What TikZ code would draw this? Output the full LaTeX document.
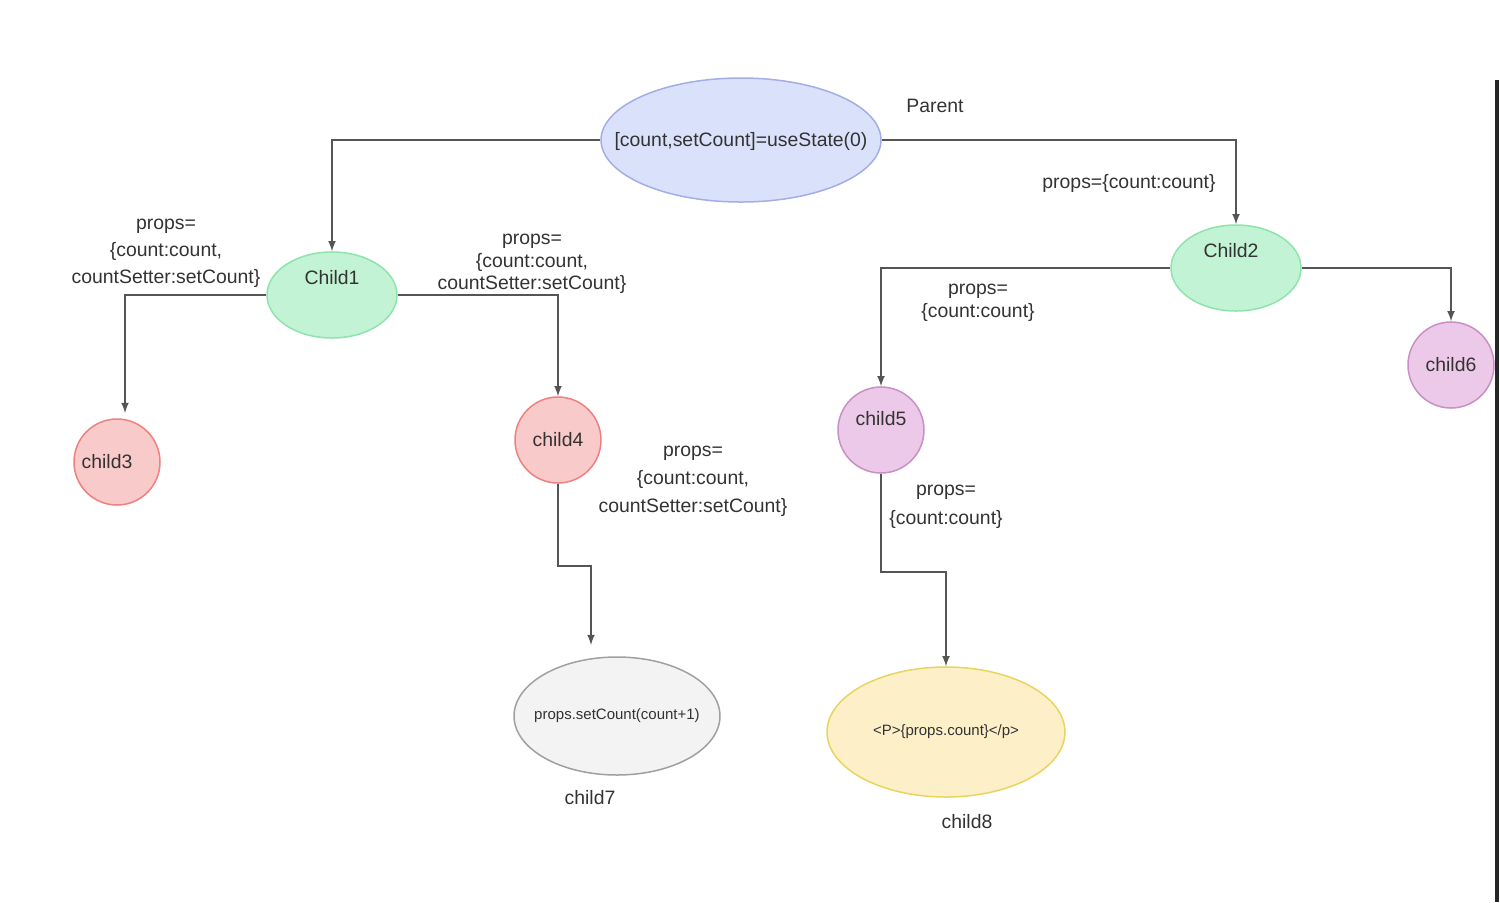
\documentclass[tikz,border=0pt]{standalone}
\usepackage{fontspec}
\setmainfont{Liberation Sans}
\usetikzlibrary{shapes, arrows, positioning}
\definecolor{parentfill}{HTML}{DAE1FB}
\definecolor{parentdraw}{HTML}{A3ADE6}
\definecolor{greenfill}{HTML}{C2F3D5}
\definecolor{greendraw}{HTML}{8FE3AD}
\definecolor{redfill}{HTML}{F9CACA}
\definecolor{reddraw}{HTML}{EF8080}
\definecolor{purplefill}{HTML}{ECC9E8}
\definecolor{purpledraw}{HTML}{C890C4}
\definecolor{grayfill}{HTML}{F3F3F3}
\definecolor{graydraw}{HTML}{A0A0A0}
\definecolor{yellowfill}{HTML}{FDEFC8}
\definecolor{yellowdraw}{HTML}{E8D55E}
\definecolor{wiregray}{HTML}{555555}
\definecolor{txt}{HTML}{333333}
\tikzstyle{parentnode} = [ellipse, draw=parentdraw, fill=parentfill, line width=0.75pt, inner sep=0pt, minimum width=140pt, minimum height=62pt, text=txt]
\tikzstyle{childnode} = [ellipse, draw=greendraw, fill=greenfill, line width=0.75pt, inner sep=0pt, minimum width=65pt, minimum height=43pt, text=txt]
\tikzstyle{leafnode} = [circle, line width=0.75pt, inner sep=0pt, minimum size=43pt, text=txt]
\tikzstyle{endnode} = [ellipse, line width=0.75pt, inner sep=0pt, text=txt]
\tikzstyle{propslabel} = [align=center, text=txt, inner sep=0pt]
\tikzstyle{wire} = [draw=wiregray, line width=0.75pt, -latex]

\begin{document}
\begin{tikzpicture}[x=0.5pt, y=-0.5pt, font=\fontsize{9.7}{11.6}\selectfont]
	\useasboundingbox (0,0) rectangle (1500,902);
	% nodes
	\node[parentnode, label={[yshift=-0.5pt, text=txt]center:[count,setCount]=useState(0)}] (parent) at (741,140) {};
	\node[propslabel] (parentlbl) at (935,106) {Parent};
	\node[childnode, label={[yshift=8.5pt, text=txt]center:Child1}] (child1) at (332,295) {};
	\node[childnode, label={[yshift=8.5pt, xshift=-2.5pt, text=txt]center:Child2}] (child2) at (1236,268) {};
	\node[leafnode, draw=reddraw, fill=redfill, label={[xshift=-5pt, text=txt]center:child3}] (child3) at (117,462) {};
	\node[leafnode, draw=reddraw, fill=redfill] (child4) at (558,440) {child4};
	\node[leafnode, draw=purpledraw, fill=purplefill, label={[yshift=5.5pt, text=txt]center:child5}] (child5) at (881,430) {};
	\node[leafnode, draw=purpledraw, fill=purplefill] (child6) at (1451,365) {child6};
	\node[endnode, draw=graydraw, fill=grayfill, minimum width=103pt, minimum height=59pt, label={[font=\fontsize{7.5}{9}\selectfont, text=txt]center:props.setCount(count+1)}] (child7) at (617,716) {};
	\node[endnode, draw=yellowdraw, fill=yellowfill, minimum width=119pt, minimum height=65pt, label={[font=\fontsize{7.5}{9}\selectfont, text=txt]center:<P>\{props.count\}</p>}] (child8) at (946,732) {};
	\node[propslabel] (child7lbl) at (590,798) {child7};
	\node[propslabel] (child8lbl) at (967,822) {child8};
	\coordinate (c3in) at (125,413);
	\coordinate (c7in) at (591,645);
	% labels on the wires
	\node[propslabel, font=\fontsize{9.7}{13.5}\selectfont] (lbl13) at (166,253) {props=\\\{count:count,\\countSetter:setCount\}};
	\node[propslabel, font=\fontsize{9.7}{11.2}\selectfont] (lbl14) at (532,264) {props=\\\{count:count,\\countSetter:setCount\}};
	\node[propslabel, font=\fontsize{9.7}{11.6}\selectfont] (lbl25) at (978,303) {props=\\\{count:count\}};
	\node[propslabel] (lbl02) at (1129,183) {props=\{count:count\}};
	\node[propslabel, font=\fontsize{9.7}{14}\selectfont] (lbl47) at (693,481) {props=\\\{count:count,\\countSetter:setCount\}};
	\node[propslabel, font=\fontsize{9.7}{14.5}\selectfont] (lbl58) at (946,507) {props=\\\{count:count\}};
	% connectors
	\draw[wire] (parent.west) -| (child1.north);
	\draw[wire] (parent.east) -| (child2.north);
	\draw[wire] (child1.west) -| (c3in);
	\draw[wire] (child1.east) -| (child4.north);
	\draw[wire] (child2.west) -| (child5.north);
	\draw[wire] (child2.east) -| (child6.north);
	\draw[wire] (child4.south) -- ++(0,82) -| (c7in);
	\draw[wire] (child5.south) -- ++(0,98) -| (child8.north);
	% screen edge
	\draw[line width=2pt, black!85] (1497,80) -- (1497,902);
\end{tikzpicture}
\end{document}
